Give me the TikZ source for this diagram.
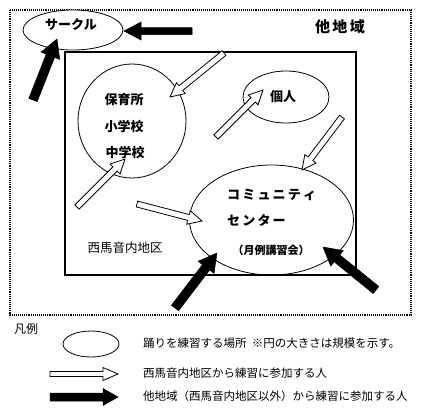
\documentclass[tikz,border=0pt]{standalone}
\usepackage{fontspec}
\setmainfont{Noto Sans CJK JP}
\usetikzlibrary{calc}
\newcommand{\polyarrow}[6]{% style, tail, tip, shaft half, head half, head length
  \path let \p1=($(#3)-(#2)$) in \pgfextra{%
    \pgfmathsetmacro\myang{atan2(\y1,\x1)}%
    \pgfmathsetmacro\mylen{veclen(\x1,\y1)}%
    \global\let\myangG\myang \global\let\mylenG\mylen};
  \draw[#1, shift={(#2)}, rotate=\myangG]
    (0pt,-#4pt) -- ({\mylenG pt-#6pt},-#4pt) -- ({\mylenG pt-#6pt},-#5pt)
    -- ({\mylenG pt},0pt) -- ({\mylenG pt-#6pt},#5pt) -- ({\mylenG pt-#6pt},#4pt)
    -- (0pt,#4pt) -- cycle;
}
\tikzset{
  region/.style={line width=1.1pt, densely dotted},
  inner/.style={line width=1.3pt},
  lbl/.style={font=\bfseries\fontsize{13}{13}\selectfont, inner sep=0pt},
  legtext/.style={font=\fontsize{11.5}{12}\selectfont, anchor=west, inner sep=0pt},
  blackarr/.style={fill=black, draw=black, line width=0.5pt, line join=miter},
  whitearr/.style={fill=white, draw=black, line width=0.8pt, line join=miter},
}
\begin{document}
\begin{tikzpicture}[x=1pt, y=-1pt]
\useasboundingbox (0,0) rectangle (426,413);
% regions
\draw[region] (10,10) rectangle (411,315);
\draw[inner] (65,52) rectangle (356,275);
% places
\draw[line width=0.8pt, fill=white] (73,30) ellipse [x radius=50, y radius=20];
\node[lbl] (circle) at (71,25) {サークル};
\node[lbl, font=\bfseries\fontsize{15}{15}\selectfont] (other) at (340,27) {他\,地\,域};
\draw[line width=0.8pt] (132,121) ellipse [x radius=54, y radius=57];
\node[lbl] (hoiku) at (124,100) {保育所};
\node[lbl] (sho) at (124,127) {小学校};
\node[lbl] (chu) at (125,153) {中学校};
\draw[line width=0.8pt] (286,97) ellipse [x radius=43, y radius=26];
\node[lbl] (kojin) at (283,97) {個人};
\draw[line width=0.8pt] (271.5,220) ellipse [x radius=82, y radius=55];
\node[lbl, anchor=west] (comm) at (227,195) {コ\,ミ\,ュ\,ニ\,テ\,ィ};
\node[lbl, anchor=west] (center) at (227,220) {セ\,ン\,タ\,ー};
\node[lbl, font=\bfseries\fontsize{11}{11}\selectfont] (getsurei) at (271,250) {（月例講習会）};
\node[lbl, font=\fontsize{12.5}{12.5}\selectfont] (nishi) at (125,248) {西馬音内地区};
% arrow end points
\coordinate (a1s) at (192,31);  \coordinate (a1e) at (124,31);
\coordinate (a2s) at (33,100);  \coordinate (a2e) at (57,39);
\coordinate (a3s) at (175,308); \coordinate (a3e) at (217,253);
\coordinate (a4s) at (376,290); \coordinate (a4e) at (323,247);
\coordinate (w1s) at (224,53);  \coordinate (w1e) at (170,97);
\coordinate (w2s) at (77,207);  \coordinate (w2e) at (125,159);
\coordinate (w3s) at (137,204); \coordinate (w3e) at (202,221);
\coordinate (w4s) at (216,137); \coordinate (w4e) at (263,90);
\coordinate (w5s) at (342,117); \coordinate (w5e) at (302,170);
\polyarrow{blackarr}{a1s}{a1e}{3.5}{9}{17}
\polyarrow{blackarr}{a2s}{a2e}{4.5}{10}{18}
\polyarrow{blackarr}{a3s}{a3e}{4.5}{10}{18}
\polyarrow{blackarr}{a4s}{a4e}{4.5}{10}{18}
\polyarrow{whitearr}{w1s}{w1e}{3}{7}{14}
\polyarrow{whitearr}{w2s}{w2e}{3}{7}{14}
\polyarrow{whitearr}{w3s}{w3e}{3}{7}{14}
\polyarrow{whitearr}{w4s}{w4e}{3}{7}{14}
\polyarrow{whitearr}{w5s}{w5e}{3}{7}{14}
% legend
\node[font=\fontsize{12}{12}\selectfont, inner sep=0pt] (hanrei) at (26,329) {凡例};
\draw[line width=0.8pt] (91,344) ellipse [x radius=28, y radius=13];
\node[legtext] (t1) at (143,343) {踊りを練習する場所\ \ ※円の大きさは規模を示す。};
\coordinate (l1s) at (50,374); \coordinate (l1e) at (118,374);
\coordinate (l2s) at (50,397); \coordinate (l2e) at (118,397);
\polyarrow{whitearr}{l1s}{l1e}{2.5}{6.5}{15}
\polyarrow{blackarr}{l2s}{l2e}{4}{8.5}{15}
\node[legtext] (t2) at (143,373) {西馬音内地区から練習に参加する人};
\node[legtext] (t3) at (143,396) {他地域（西馬音内地区以外）から練習に参加する人};
\end{tikzpicture}
\end{document}
